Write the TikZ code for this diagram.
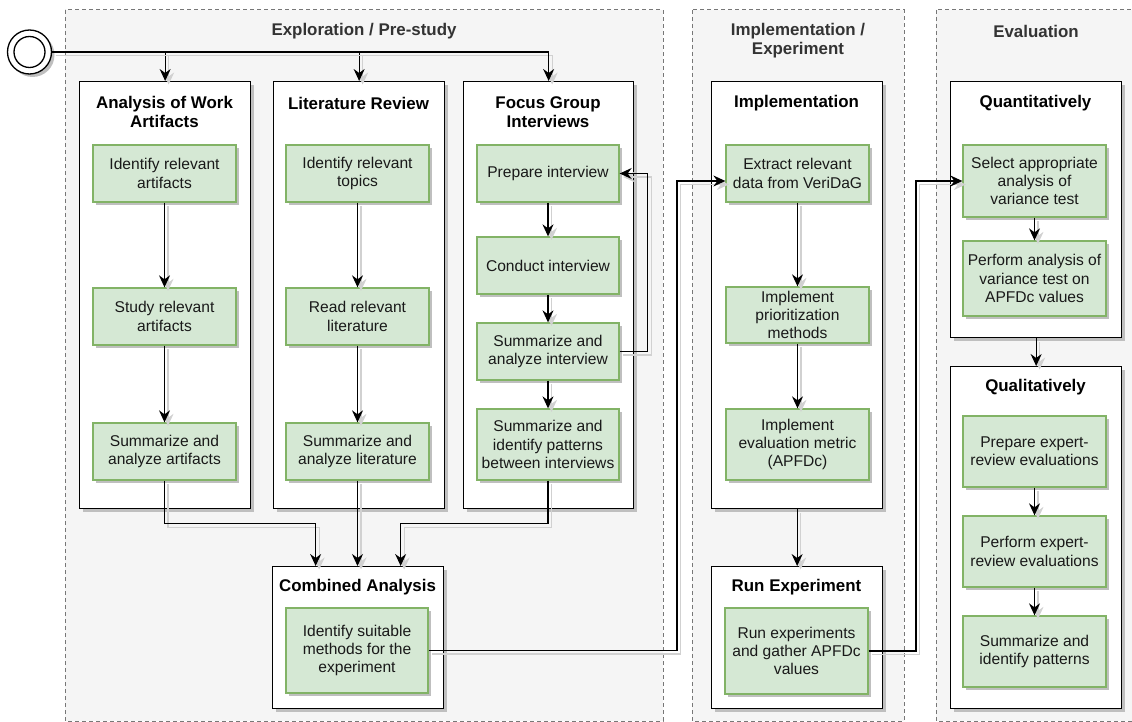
\documentclass[tikz,border=0pt]{standalone}
\usepackage{fontspec}
\setmainfont{Liberation Sans}
\usetikzlibrary{arrows.meta,shadows}
\definecolor{grpfill}{HTML}{F5F5F5}
\definecolor{grpline}{HTML}{777777}
\definecolor{grptext}{HTML}{333333}
\definecolor{gfill}{HTML}{D5E8D4}
\definecolor{gline}{HTML}{82B366}
\begin{document}
\begin{tikzpicture}[x=1pt,y=-1pt,
 grp/.style={fill=grpfill, draw=grpline, line width=1pt, dash pattern=on 4pt off 3pt},
 grptitle/.style={font=\fontsize{16.9}{19}\selectfont\bfseries, text=grptext, align=center, inner sep=0},
 sh/.style={drop shadow={shadow xshift=3pt, shadow yshift=-3pt, fill=black!25, opacity=1}},
 lane/.style={draw=black, fill=white, line width=1.3pt, anchor=north west, inner sep=0, sh},
 lanetitle/.style={font=\fontsize{16.9}{19}\selectfont\bfseries, align=center, inner sep=0},
 gbox/.style={draw=gline, fill=gfill, line width=1.3pt, minimum width=143, align=center, inner sep=0, font=\fontsize{15.6}{18.3}\selectfont, text=black!90, sh},
 conn/.style={line width=1.3pt, preaction={draw=black!18, line width=1.3pt, transform canvas={xshift=3.5pt, yshift=-3.5pt}}},
 arr/.style={conn, -{Stealth[length=12pt, width=11pt, inset=4pt]}}
]
\useasboundingbox (0,0) rectangle (1132,722);
% groups
\begin{scope}
\clip (0,0) rectangle (1132,722);
\draw[grp] (65,10) rectangle (663,721);
\draw[grp] (692,10) rectangle (904,721);
\draw[grp] (936,10) rectangle (1145,721);
\end{scope}
\node[grptitle] (t1) at (364,31) {Exploration / Pre-study};
\node[grptitle] (t2) at (798,41) {Implementation /\\Experiment};
\node[grptitle] (t3) at (1036,31) {Evaluation};

% start
\node[circle, draw=black, fill=white, line width=1.3pt, minimum size=44, inner sep=0, sh] (start) at (29.5,52) {};
\node[circle, draw=black, line width=1.3pt, minimum size=31, inner sep=0] (starti) at (start) {};

% containers
\node[lane, minimum width=171, minimum height=427] (awa) at (79,81) {};
\node[lane, minimum width=171, minimum height=427] (lit) at (273,81) {};
\node[lane, minimum width=170, minimum height=427] (fgi) at (463,81) {};
\node[lane, minimum width=171, minimum height=142] (comb) at (272,566) {};
\node[lane, minimum width=171, minimum height=427] (impl) at (711,81) {};
\node[lane, minimum width=171, minimum height=142] (run) at (711,566) {};
\node[lane, minimum width=171, minimum height=256] (quant) at (950,81) {};
\node[lane, minimum width=171, minimum height=342] (qual) at (950,366) {};

\node[lanetitle] (awat) at (164.5,112) {Analysis of Work\\Artifacts};
\node[lanetitle] (litt) at (358.5,103) {Literature Review};
\node[lanetitle] (fgit) at (548,112) {Focus Group\\Interviews};
\node[lanetitle] (combt) at (357.5,587) {Combined Analysis};
\node[lanetitle] (implt) at (796.5,103) {Implementation};
\node[lanetitle] (runt) at (796.5,587) {Run Experiment};
\node[lanetitle] (quantt) at (1035.5,103) {Quantitatively};
\node[lanetitle] (qualt) at (1035.5,387) {Qualitatively};

% green boxes
\node[gbox, minimum height=57] (a1) at (164.5,173.5) {Identify relevant\\artifacts};
\node[gbox, minimum height=57] (a2) at (164.5,316.5) {Study relevant\\artifacts};
\node[gbox, minimum height=57] (a3) at (164.5,451.5) {Summarize and\\analyze artifacts};

\node[gbox, minimum height=57] (l1) at (357.5,173.5) {Identify relevant\\topics};
\node[gbox, minimum height=57] (l2) at (357.5,316.5) {Read relevant\\literature};
\node[gbox, minimum height=57] (l3) at (357.5,451.5) {Summarize and\\analyze literature};

\node[gbox, minimum width=142, minimum height=57] (f1) at (548,173.5) {Prepare interview};
\node[gbox, minimum width=142, minimum height=57] (f2) at (548,265.5) {Conduct interview};
\node[gbox, minimum width=142, minimum height=57] (f3) at (548,351.5) {Summarize and\\analyze interview};
\node[gbox, minimum width=142, minimum height=71] (f4) at (548,444.5) {Summarize and\\identify patterns\\between interviews};

\node[gbox, minimum width=142, minimum height=85] (cg) at (357,650.5) {Identify suitable\\methods for the\\experiment};

\node[gbox, minimum height=57] (i1) at (797.5,173.5) {Extract relevant\\data from VeriDaG};
\node[gbox, minimum height=56] (i2) at (797.5,315) {Implement\\prioritization\\methods};
\node[gbox, minimum height=71] (i3) at (797.5,444.5) {Implement\\evaluation metric\\(APFDc)};

\node[gbox, minimum height=86] (rg) at (796.5,651) {Run experiments\\and gather APFDc\\values};

\node[gbox, minimum height=72] (q1) at (1034.5,181) {Select appropriate\\analysis of\\variance test};
\node[gbox, minimum height=75] (q2) at (1034.5,278.5) {Perform analysis of\\variance test on\\APFDc values};
\node[gbox, minimum height=71] (e1) at (1034.5,451.5) {Prepare expert-\\review evaluations};
\node[gbox, minimum height=71] (e2) at (1034.5,551.5) {Perform expert-\\review evaluations};
\node[gbox, minimum height=71] (e3) at (1034.5,651.5) {Summarize and\\identify patterns};

% connectors
\draw[arr] (start.east) -| (awa.north);
\draw[arr] (start.east) -| (lit.north);
\draw[arr] (start.east) -| (fgi.north);

\draw[arr] (a1) -- (a2);
\draw[arr] (a2) -- (a3);
\draw[arr] (l1) -- (l2);
\draw[arr] (l2) -- (l3);
\draw[arr] (f1) -- (f2);
\draw[arr] (f2) -- (f3);
\draw[arr] (f3) -- (f4);
\draw[arr] (f3.east) -- ++(28,0) |- (f1.east);

\coordinate (ca) at ([xshift=-42.5pt]comb.north);
\coordinate (cb) at ([xshift=42.5pt]comb.north);
\draw[arr] (a3.south) -- ++(0,43) -| (ca);
\draw[arr] (l3.south) -- (l3.south |- comb.north);
\draw[arr] (f4.south) -- ++(0,43) -| (cb);

\coordinate (k1) at (677,181);
\draw[arr] (cg.east) -| (k1) -- (k1 -| i1.west);
\draw[arr] (i1) -- (i2);
\draw[arr] (i2) -- (i3);
\draw[arr] (impl.south) -- (run.north);

\coordinate (k2) at (916,181);
\draw[arr] (rg.east) -| (k2) -- (q1.west);
\draw[arr] (q1) -- (q2);
\draw[arr] (quant.south) -- (quant.south |- qual.north);
\draw[arr] (e1) -- (e2);
\draw[arr] (e2) -- (e3);
\end{tikzpicture}
\end{document}
